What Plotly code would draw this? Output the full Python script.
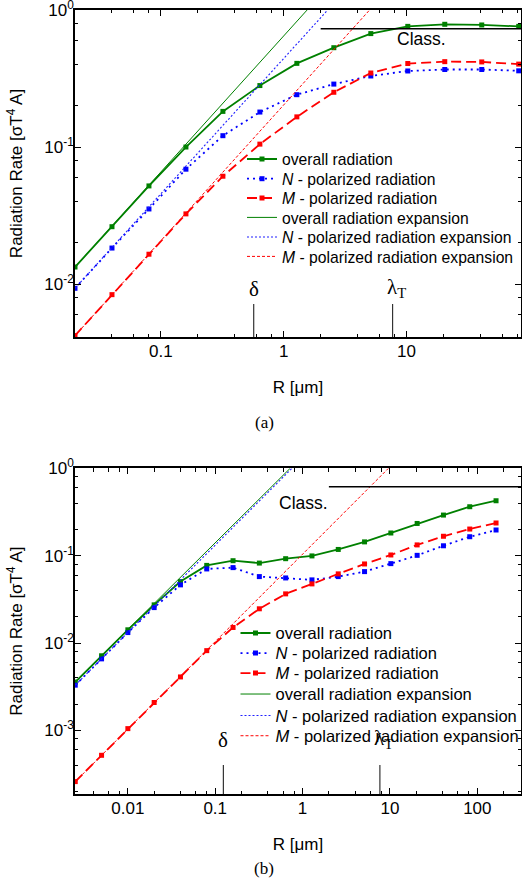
import math
import plotly.graph_objects as go

# ---------------- data ----------------
# panel (a)
R_a = [0.02, 0.04, 0.08, 0.16, 0.32, 0.64, 1.28, 2.56, 5.12, 10.24, 20.48, 40.96, 81.92]
overall_a = [0.0133, 0.0262, 0.052, 0.100, 0.182, 0.281, 0.408, 0.531, 0.673, 0.760, 0.787, 0.778, 0.760]
N_a = [0.0093, 0.0183, 0.0353, 0.0689, 0.121, 0.180, 0.241, 0.288, 0.330, 0.359, 0.368, 0.368, 0.360]
M_a = [0.0042, 0.00836, 0.0165, 0.0325, 0.0612, 0.105, 0.166, 0.251, 0.347, 0.407, 0.420, 0.418, 0.403]
exp_overall_a_x = [0.02, 1.55]
exp_overall_a_y = [0.0133, 1.0]
exp_N_a_x = [0.02, 2.28]
exp_N_a_y = [0.0093, 1.0]
exp_M_a_x = [0.02, 5.0]
exp_M_a_y = [0.0042, 1.0]
class_a_x = [2.0, 100.0]
class_a_y = [0.73, 0.73]
delta_a = 0.57
lambdaT_a = 7.7

# panel (b)
R_b = [0.0025, 0.005, 0.01, 0.02, 0.04, 0.08, 0.16, 0.32, 0.64, 1.28, 2.56, 5.12,
       10.24, 20.48, 40.96, 81.92, 163.84]
overall_b = [0.00358, 0.00716, 0.0142, 0.0274, 0.0506, 0.0775, 0.0877, 0.0824, 0.0925,
             0.0995, 0.118, 0.144, 0.182, 0.234, 0.292, 0.364, 0.426]
N_b = [0.0033, 0.0066, 0.0132, 0.0255, 0.0464, 0.0706, 0.0731, 0.0577, 0.0557, 0.0529,
       0.0577, 0.0658, 0.0812, 0.101, 0.130, 0.165, 0.197]
M_b = [0.00026, 0.00052, 0.00105, 0.00209, 0.0041, 0.0082, 0.0151, 0.0247, 0.0366,
       0.0476, 0.062, 0.0805, 0.102, 0.133, 0.167, 0.202, 0.237]
exp_overall_b_x = [0.0025, 0.72]
exp_overall_b_y = [0.0036, 1.0]
exp_N_b_x = [0.0025, 0.755]
exp_N_b_y = [0.0033, 1.0]
exp_M_b_x = [0.0025, 9.6]
exp_M_b_y = [0.00026, 1.0]
class_b_x = [2.0, 1000.0]
class_b_y = [0.616, 0.616]
delta_b = 0.124
lambdaT_b = 7.67

names = ["overall radiation", "<i>N</i> - polarized radiation", "<i>M</i> - polarized radiation",
         "overall radiation expansion", "<i>N</i> - polarized radiation expansion",
         "<i>M</i> - polarized radiation expansion"]

xticks_a = [0.1, 1, 10]
xticklabels_a = ["0.1", "1", "10"]
yticks_a = [0.01, 0.1, 1]
yticklabels_a = ["10<sup>-2</sup>", "10<sup>-1</sup>", "10<sup>0</sup>"]
xticks_b = [0.01, 0.1, 1, 10, 100]
xticklabels_b = ["0.01", "0.1", "1", "10", "100"]
yticks_b = [0.001, 0.01, 0.1, 1]
yticklabels_b = ["10<sup>-3</sup>", "10<sup>-2</sup>", "10<sup>-1</sup>", "10<sup>0</sup>"]

# ---------------- styling ----------------
GREEN = "#008000"
BLUE = "#0000ff"
RED = "#ff0000"
FONT = "Liberation Sans, Arial, sans-serif"
SERIF = "Liberation Serif, Times New Roman, serif"
LEGFONT_A = 15.7
LEGFONT_B = 16.5

minor_vals = [m * 10 ** k for k in range(-4, 4) for m in (2, 4, 6, 8)]

# pixel geometry helpers (plot area: x 75..521, y 10..794)
def px_x(p):
    return (p - 75) / 446


def px_y(p):
    return (794 - p) / 784


fig = go.Figure()


def add_panel(R, ov, n, m, eox, eoy, enx, eny, emx, emy, cx, cy, xa, ya, legs):
    mk = dict(symbol="square", size=5)
    specs = [
        (R, ov, "lines+markers", dict(color=GREEN, width=1.8), dict(color=GREEN, **mk)),
        (R, n, "lines+markers", dict(color=BLUE, width=1.8, dash="2px,4px"), dict(color=BLUE, **mk)),
        (R, m, "lines+markers", dict(color=RED, width=1.8, dash="10px,5px"), dict(color=RED, **mk)),
        (eox, eoy, "lines", dict(color=GREEN, width=1), None),
        (enx, eny, "lines", dict(color="#2020ff", width=1.1, dash="2px,2px"), None),
        (emx, emy, "lines", dict(color=RED, width=1, dash="3px,2px"), None),
    ]
    for i, (xx, yy, mode, ln, mkr) in enumerate(specs):
        kw = dict(x=xx, y=yy, mode=mode, name=names[i], line=ln, xaxis=xa, yaxis=ya,
                  legend=legs[i])
        if mkr is not None:
            kw["marker"] = mkr
        fig.add_trace(go.Scatter(**kw))
    fig.add_trace(go.Scatter(x=cx, y=cy, mode="lines", showlegend=False,
                             line=dict(color="black", width=1.5),
                             xaxis=xa, yaxis=ya, hoverinfo="skip"))


leg_ids_a = ["legend"] + ["legend%d" % k for k in range(2, 7)]
leg_ids_b = ["legend%d" % k for k in range(7, 13)]

add_panel(R_a, overall_a, N_a, M_a, exp_overall_a_x, exp_overall_a_y, exp_N_a_x, exp_N_a_y,
          exp_M_a_x, exp_M_a_y, class_a_x, class_a_y, "x", "y", leg_ids_a)
add_panel(R_b, overall_b, N_b, M_b, exp_overall_b_x, exp_overall_b_y, exp_N_b_x, exp_N_b_y,
          exp_M_b_x, exp_M_b_y, class_b_x, class_b_y, "x2", "y2", leg_ids_b)

axis_common = dict(type="log", showline=True, linecolor="black", linewidth=1.5, mirror="allticks",
                   ticks="inside", ticklen=6, tickwidth=1, tickcolor="black", showgrid=False,
                   zeroline=False, automargin=False, ticklabeloverflow="allow",
                   tickfont=dict(family=FONT, size=17, color="black"),
                   minor=dict(tickvals=minor_vals, ticks="inside", ticklen=3.5, tickwidth=1,
                              tickcolor="black", showgrid=False))

ytitle = "Radiation Rate [σT<sup>4</sup> A]"

layout = dict(
    width=522, height=896,
    margin=dict(l=75, r=1, t=10, b=102, autoexpand=False),
    paper_bgcolor="white", plot_bgcolor="white",
    font=dict(family=FONT, size=17, color="black"),
    xaxis=dict(axis_common, domain=[0, 1], anchor="y",
               range=[math.log10(0.02), math.log10(85.5)],
               tickvals=xticks_a, ticktext=xticklabels_a, ticklabelstandoff=-2,
               title=dict(text="R [μm]", font=dict(size=17), standoff=21)),
    yaxis=dict(axis_common, domain=[0.5829, 1], anchor="x",
               range=[-2.387, 0.0003], tickvals=yticks_a, ticktext=yticklabels_a,
               ticklabelstandoff=-4,
               title=dict(text=ytitle, font=dict(size=17), standoff=17)),
    xaxis2=dict(axis_common, domain=[0, 1], anchor="y2",
                range=[-2.605, 2.5],
                tickvals=xticks_b, ticktext=xticklabels_b, ticklabelstandoff=-2,
                title=dict(text="R [μm]", font=dict(size=17), standoff=21)),
    yaxis2=dict(axis_common, domain=[0, 0.4154], anchor="x2",
                range=[-3.727, 0.0003], tickvals=yticks_b, ticktext=yticklabels_b,
                ticklabelstandoff=-4,
                title=dict(text=ytitle, font=dict(size=17), standoff=17)),
    showlegend=True,
)

rows_a = [159.3, 179, 198.3, 217.7, 237.3, 256.7]
rows_b = [633.3, 653.3, 673.3, 694.3, 715.7, 736]
for lid, row in zip(leg_ids_a, rows_a):
    layout[lid] = dict(x=px_x(242), y=px_y(row), xanchor="left", yanchor="middle",
                       bgcolor="rgba(0,0,0,0)", font=dict(family=FONT, size=LEGFONT_A))
for lid, row in zip(leg_ids_b, rows_b):
    layout[lid] = dict(x=px_x(235.5), y=px_y(row), xanchor="left", yanchor="middle",
                       bgcolor="rgba(0,0,0,0)", font=dict(family=FONT, size=LEGFONT_B))
fig.update_layout(**layout)

# marker lines for delta and lambda_T
for xv, xr, yr, frac in [(delta_a, "x", "y", 0.101), (lambdaT_a, "x", "y", 0.101),
                         (delta_b, "x2", "y2", 0.089), (lambdaT_b, "x2", "y2", 0.089)]:
    fig.add_shape(type="line", xref=xr, yref=yr + " domain", x0=xv, x1=xv, y0=0, y1=frac,
                  line=dict(color="#333333", width=1.2))

ann = []
ann.append(dict(x=math.log10(13.3), y=math.log10(0.61), xref="x", yref="y", text="Class.",
                showarrow=False, font=dict(family=FONT, size=17.5)))
ann.append(dict(x=math.log10(1.03), y=math.log10(0.40), xref="x2", yref="y2", text="Class.",
                showarrow=False, font=dict(family=FONT, size=17.5)))
for xv, xr, yr, ypos in [(delta_a, "x", "y", 0.104), (delta_b, "x2", "y2", 0.122)]:
    ann.append(dict(x=math.log10(xv), y=ypos, xref=xr, yref=yr + " domain", text="δ",
                    showarrow=False, font=dict(family=SERIF, size=21)))
for xv, xr, yr, ypos in [(lambdaT_a, "x", "y", 0.104), (lambdaT_b, "x2", "y2", 0.122)]:
    ann.append(dict(x=math.log10(xv), y=ypos, xref=xr, yref=yr + " domain", text="λ<sub>T</sub>",
                    showarrow=False, xshift=4, font=dict(family=SERIF, size=21)))
ann.append(dict(x=px_x(264), y=px_y(422), xref="paper", yref="paper", text="(a)",
                showarrow=False, font=dict(family=SERIF, size=17)))
ann.append(dict(x=px_x(264), y=px_y(880), xref="paper", yref="paper", text="(b)",
                showarrow=False, font=dict(family=SERIF, size=17)))
fig.update_layout(annotations=ann)

fig.write_html("out.html", config={"displayModeBar": False},
               post_script="document.body.style.margin='0px';")
